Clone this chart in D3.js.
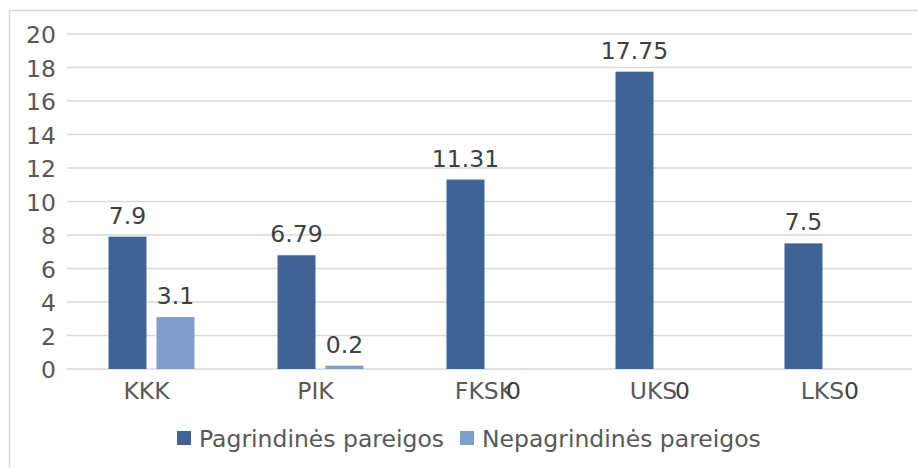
<!DOCTYPE html>
<html>
<head>
<meta charset="utf-8">
<script src="https://cdn.jsdelivr.net/npm/d3@7"></script>
<style>
  body { margin: 0; background: #fff; }
  svg { font-family: "DejaVu Sans", sans-serif; }
</style>
</head>
<body>
<div id="chart"></div>
<script>
const categories = ["KKK", "PIK", "FKSK", "UKS", "LKS"];
const seriesNames = ["Pagrindinės pareigos", "Nepagrindinės pareigos"];
const pagrindines = [7.9, 6.79, 11.31, 17.75, 7.5];
const nepagrindines = [3.1, 0.2, 0, 0, 0];
const yTicks = [0, 2, 4, 6, 8, 10, 12, 14, 16, 18, 20];
const colors = ["#3f6395", "#7f9ecb"];

(function(){
  const W = 918, H = 468;
  const margin = { top: 34, right: 6, bottom: 99, left: 67 };
  const width = W - margin.left - margin.right;
  const height = H - margin.top - margin.bottom;
  const fs = 23.5;

  const svg = d3.select("#chart").append("svg")
    .attr("width", W)
    .attr("height", H);

  // outer frame
  svg.append("rect")
    .attr("x", 9.5).attr("y", 10.5)
    .attr("width", W).attr("height", H)
    .attr("fill", "none")
    .attr("stroke", "#d9d9d9")
    .attr("stroke-width", 1.5);

  const g = svg.append("g")
    .attr("transform", `translate(${margin.left},${margin.top})`);

  const x = d3.scaleBand().domain(categories).range([0, width]);
  const y = d3.scaleLinear().domain([0, 20]).range([height, 0]);
  const barW = 38, gap = 10;

  // gridlines
  g.selectAll("line.grid")
    .data(yTicks)
    .enter().append("line")
    .attr("class", "grid")
    .attr("x1", 0).attr("x2", width)
    .attr("y1", d => y(d)).attr("y2", d => y(d))
    .attr("stroke", "#d9d9d9")
    .attr("stroke-width", 1.5);

  // y tick labels
  g.selectAll("text.ytick")
    .data(yTicks)
    .enter().append("text")
    .attr("class", "ytick")
    .attr("x", -11)
    .attr("y", d => y(d) + 9)
    .attr("text-anchor", "end")
    .attr("font-size", fs)
    .attr("fill", "#595959")
    .text(d => d);

  // category labels (slightly left of band centre, as in the original)
  g.selectAll("text.xtick")
    .data(categories)
    .enter().append("text")
    .attr("class", "xtick")
    .attr("x", d => x(d) + x.bandwidth() / 2 - 5)
    .attr("y", height + 30)
    .attr("text-anchor", "middle")
    .attr("font-size", fs)
    .attr("fill", "#595959")
    .text(d => d);

  const series = [pagrindines, nepagrindines];
  series.forEach((vals, si) => {
    const offset = si === 0 ? -(gap / 2 + barW) : gap / 2;
    const rows = categories.map((c, i) => ({ c, v: vals[i] }));

    g.selectAll(`rect.s${si}`)
      .data(rows)
      .enter().append("rect")
      .attr("class", `s${si}`)
      .attr("x", d => x(d.c) + x.bandwidth() / 2 + offset)
      .attr("y", d => y(d.v))
      .attr("width", barW)
      .attr("height", d => y(0) - y(d.v))
      .attr("fill", colors[si]);

    g.selectAll(`text.l${si}`)
      .data(rows)
      .enter().append("text")
      .attr("class", `l${si}`)
      .attr("x", d => x(d.c) + x.bandwidth() / 2 + offset + barW / 2)
      .attr("y", d => d.v === 0 ? height + 30 : y(d.v) - 13)
      .attr("text-anchor", "middle")
      .attr("font-size", fs)
      .attr("fill", "#404040")
      .text(d => d.v);
  });

  // legend
  const legend = svg.append("g");
  const items = [{ x: 177, name: seriesNames[0], c: colors[0] }, { x: 460, name: seriesNames[1], c: colors[1] }];
  items.forEach(it => {
    legend.append("rect")
      .attr("x", it.x).attr("y", 431)
      .attr("width", 14).attr("height", 14)
      .attr("fill", it.c);
    legend.append("text")
      .attr("x", it.x + 22)
      .attr("y", 447)
      .attr("font-size", fs)
      .attr("fill", "#595959")
      .text(it.name);
  });
})();
</script>
</body>
</html>
